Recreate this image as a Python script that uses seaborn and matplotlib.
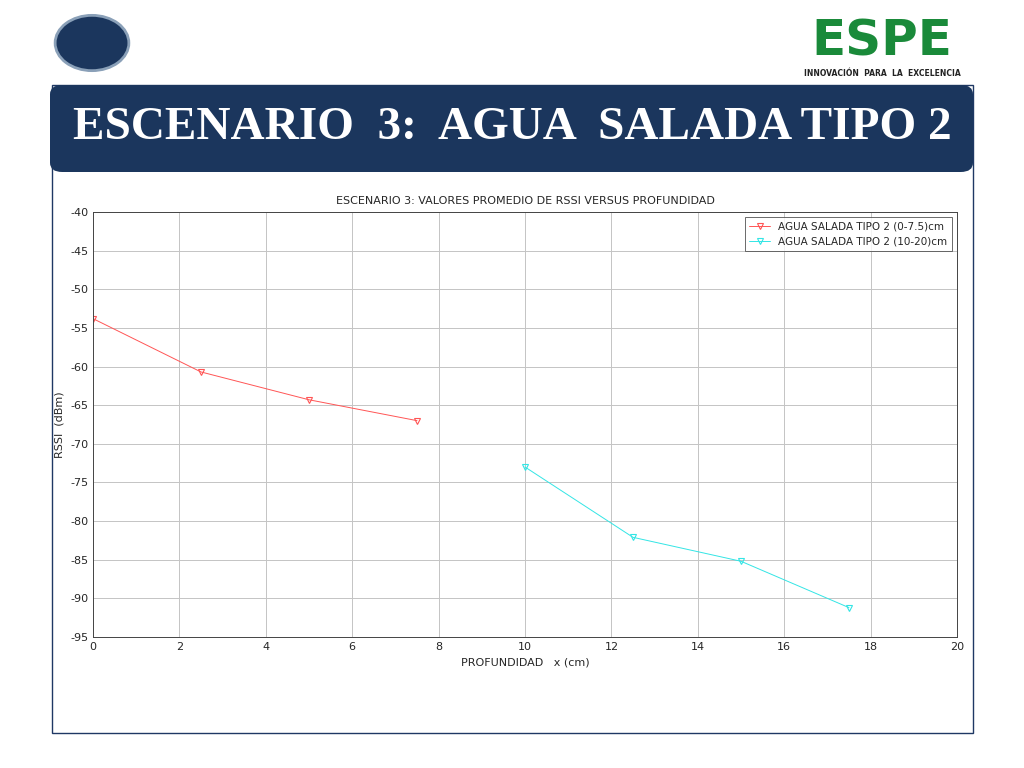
import pandas as pd
import matplotlib.pyplot as plt
import seaborn as sns
from matplotlib.patches import FancyBboxPatch, Rectangle, Circle

# Data
depth_a = [0, 2.5, 5, 7.5]
rssi_a = [-53.8, -60.7, -64.3, -67.0]
depth_b = [10, 12.5, 15, 17.5]
rssi_b = [-73.0, -82.1, -85.2, -91.2]
label_a = "AGUA SALADA TIPO 2 (0-7.5)cm"
label_b = "AGUA SALADA TIPO 2 (10-20)cm"

df = pd.DataFrame({
    "x": depth_a + depth_b,
    "y": rssi_a + rssi_b,
    "serie": [label_a] * len(depth_a) + [label_b] * len(depth_b),
})

sns.set_style("whitegrid")
plt.rcParams['font.family'] = ['DejaVu Sans']
plt.rcParams['axes.unicode_minus'] = False

fig = plt.figure(figsize=(10.24, 7.68), dpi=100)

# slide frame and title banner
fig.patches.append(Rectangle((52 / 1024, 1 - 733 / 768), 921 / 1024, 648 / 768,
                             transform=fig.transFigure, fill=False, ec="#1f3864", lw=1))
fig.patches.append(FancyBboxPatch((50 / 1024, 1 - 172 / 768), 923 / 1024, 87 / 768,
                                  boxstyle="round,pad=0,rounding_size=0.012",
                                  transform=fig.transFigure, fc="#1b365d", ec="none"))
fig.text(0.5, 1 - 128 / 768, "ESCENARIO  3:  AGUA  SALADA TIPO 2", color="white",
         fontsize=34, family="Liberation Serif", fontweight="bold", ha="center", va="center")

# logos (simplified)
fig.patches.append(Circle((92 / 1024, 1 - 43 / 768), 0.036, transform=fig.transFigure,
                          fc="#1b365d", ec="#8aa0b8", lw=2))
fig.text(882 / 1024, 1 - 42 / 768, "ESPE", color="#1a8a3a", fontsize=36, fontweight="bold",
         ha="center", va="center")
fig.text(882 / 1024, 1 - 73 / 768, "INNOVACIÓN  PARA  LA  EXCELENCIA", color="#222222",
         fontsize=5.5, fontweight="bold", ha="center", va="center")

ax = fig.add_axes([93 / 1024, 1 - 637 / 768, 864 / 1024, 425 / 768])
sns.lineplot(data=df, x="x", y="y", hue="serie", palette=["#ff5555", "#33e5e5"],
             marker="v", markersize=5, markerfacecolor="none", markeredgewidth=0.8,
             linewidth=0.7, ax=ax)
for line in ax.lines:
    line.set_markeredgecolor(line.get_color())

ax.set_xlim(0, 20)
ax.set_ylim(-95, -40)
ax.set_xticks(range(0, 21, 2))
ax.set_yticks(range(-95, -39, 5))
ax.tick_params(labelsize=8, length=3, direction="in")
ax.grid(color="#c4c4c4", lw=0.7)
for s in ax.spines.values():
    s.set_color("#444444")
    s.set_linewidth(0.7)
ax.set_title("ESCENARIO 3: VALORES PROMEDIO DE RSSI VERSUS PROFUNDIDAD", fontsize=8)
ax.set_xlabel("PROFUNDIDAD   x (cm)", fontsize=8)
ax.set_ylabel("RSSI  (dBm)", fontsize=8)
leg = ax.legend(loc="upper right", fontsize=7.5, frameon=True, fancybox=False,
                edgecolor="#444444", title=None)
leg.get_frame().set_linewidth(0.7)

plt.savefig("out.png", dpi=100)
